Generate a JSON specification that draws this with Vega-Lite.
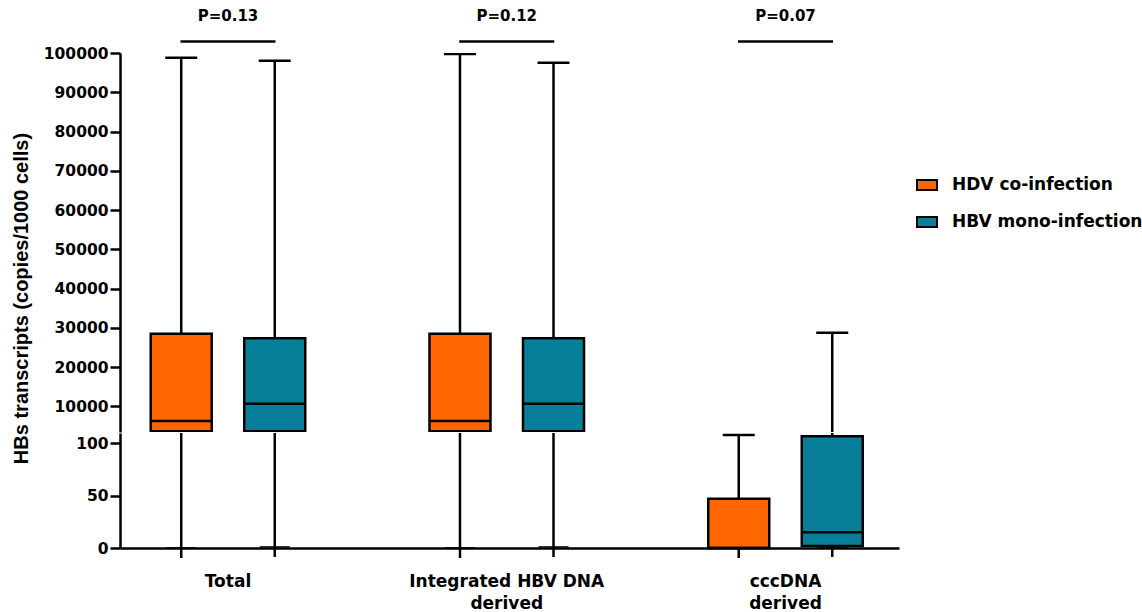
{
  "$schema": "https://vega.github.io/schema/vega-lite/v6.json",
  "padding": {"top": 8, "left": 11, "right": 2, "bottom": 2},
  "background": "white",
  "bounds": "flush",
  "datasets": {
    "boxes": [
      {"group": "Total", "infection": "HDV co-infection", "min": 0, "q1": 3700, "median": 6300, "q3": 28500, "max": 98800},
      {"group": "Total", "infection": "HBV mono-infection", "min": 1, "q1": 3700, "median": 10700, "q3": 27400, "max": 98000},
      {"group": "Integrated HBV DNA derived", "infection": "HDV co-infection", "min": 0, "q1": 3700, "median": 6300, "q3": 28500, "max": 99750},
      {"group": "Integrated HBV DNA derived", "infection": "HBV mono-infection", "min": 1, "q1": 3700, "median": 10700, "q3": 27400, "max": 97500},
      {"group": "cccDNA derived", "infection": "HDV co-infection", "min": 0, "q1": 0, "median": 0, "q3": 47, "max": 108},
      {"group": "cccDNA derived", "infection": "HBV mono-infection", "min": 1, "q1": 2, "median": 15, "q3": 107, "max": 28800}
    ],
    "pvals": [
      {"group": "Total", "p": "P=0.13"},
      {"group": "Integrated HBV DNA derived", "p": "P=0.12"},
      {"group": "cccDNA derived", "p": "P=0.07"}
    ]
  },
  "config": {
    "view": {"stroke": null},
    "font": "DejaVu Sans",
    "tick": {"opacity": 1},
    "axis": {
      "domainColor": "black", "domainWidth": 2.5, "tickColor": "black", "tickWidth": 2.5, "tickSize": 10,
      "labelFont": "DejaVu Sans", "labelFontWeight": "bold", "labelFontSize": 15.5, "labelColor": "black",
      "titleFont": "Liberation Sans", "titleFontWeight": "bold", "titleFontSize": 20, "titleColor": "black",
      "grid": false, "labelPadding": 2, "labelLimit": 0
    }
  },
  "vconcat": [
    {
      "width": 779,
      "height": 379,
      "layer": [
        {
          "data": {"name": "boxes"},
          "mark": {"type": "rule", "strokeWidth": 2.5, "color": "black", "clip": true},
          "encoding": {
            "x": {"field": "group", "type": "nominal", "axis": null,
                  "scale": {"domain": ["Total", "Integrated HBV DNA derived", "cccDNA derived"], "paddingInner": 0.329, "paddingOuter": 0.0618, "align": 0.42}},
            "xOffset": {"field": "infection", "type": "nominal", "scale": {"domain": ["HDV co-infection", "HBV mono-infection"], "paddingInner": 0, "paddingOuter": 0}},
            "y": {"field": "min", "type": "quantitative",
                  "scale": {"domain": [3500, 100000], "nice": false, "zero": false},
                  "axis": {"values": [10000, 20000, 30000, 40000, 50000, 60000, 70000, 80000, 90000, 100000], "format": "d",
                           "title": "HBs transcripts (copies/1000 cells)", "titleY": 245, "titlePadding": 12}},
            "y2": {"field": "max"}
          }
        },
        {
          "data": {"name": "boxes"},
          "mark": {"type": "bar", "width": 61, "stroke": "black", "strokeWidth": 2.5, "clip": true},
          "encoding": {
            "x": {"field": "group", "type": "nominal"},
            "xOffset": {"field": "infection", "type": "nominal"},
            "y": {"field": "q1", "type": "quantitative"},
            "y2": {"field": "q3"},
            "color": {"field": "infection", "type": "nominal",
                      "scale": {"domain": ["HDV co-infection", "HBV mono-infection"], "range": ["#FF6600", "#087F98"]},
                      "legend": {"title": null, "orient": "none", "legendX": 796, "legendY": 121,
                                 "symbolType": "M-1,-0.5H1V0.5H-1Z", "symbolSize": 400, "symbolStrokeColor": "black", "symbolStrokeWidth": 2,
                                 "labelFont": "DejaVu Sans", "labelFontWeight": "bold", "labelFontSize": 17, "labelColor": "black", "labelLimit": 0,
                                 "labelOffset": 14, "rowPadding": 17, "symbolOpacity": 1}}
          }
        },
        {
          "data": {"name": "boxes"},
          "mark": {"type": "tick", "size": 61, "thickness": 2.5, "color": "black", "opacity": 1, "clip": true},
          "encoding": {
            "x": {"field": "group", "type": "nominal"},
            "xOffset": {"field": "infection", "type": "nominal"},
            "y": {"field": "median", "type": "quantitative"}
          }
        },
        {
          "data": {"name": "boxes"},
          "mark": {"type": "tick", "size": 32, "thickness": 2.5, "color": "black", "opacity": 1, "clip": true},
          "encoding": {
            "x": {"field": "group", "type": "nominal"},
            "xOffset": {"field": "infection", "type": "nominal"},
            "y": {"field": "max", "type": "quantitative"}
          }
        },
        {
          "data": {"name": "pvals"},
          "mark": {"type": "tick", "size": 95, "thickness": 2.5, "color": "black", "opacity": 1, "clip": false},
          "encoding": {
            "x": {"field": "group", "type": "nominal"},
            "y": {"datum": 102900, "type": "quantitative"}
          }
        },
        {
          "data": {"name": "pvals"},
          "mark": {"type": "text", "dy": -26, "font": "DejaVu Sans", "fontWeight": "bold", "fontSize": 15, "color": "black", "baseline": "middle", "clip": false},
          "encoding": {
            "x": {"field": "group", "type": "nominal"},
            "y": {"datum": 102900, "type": "quantitative"},
            "text": {"field": "p"}
          }
        }
      ]
    },
    {
      "width": 779,
      "height": 115,
      "layer": [
        {
          "data": {"name": "boxes"},
          "mark": {"type": "rule", "strokeWidth": 2.5, "color": "black"},
          "encoding": {
            "x": {"field": "group", "type": "nominal",
                  "scale": {"domain": ["Total", "Integrated HBV DNA derived", "cccDNA derived"], "paddingInner": 0.329, "paddingOuter": 0.0618, "align": 0.42},
                  "axis": {"title": null, "ticks": false, "tickSize": 0, "labelPadding": 25, "labelAngle": 0, "labelFontSize": 17, "labelLineHeight": 22, "labelBaseline": "top", "labelLimit": 0,
                           "labelExpr": "datum.label == 'Total' ? 'Total' : datum.label == 'cccDNA derived' ? ['cccDNA', 'derived'] : ['Integrated HBV DNA', 'derived']"}},
            "xOffset": {"field": "infection", "type": "nominal", "scale": {"domain": ["HDV co-infection", "HBV mono-infection"], "paddingInner": 0, "paddingOuter": 0}},
            "y": {"field": "min", "type": "quantitative",
                  "scale": {"domain": [0, 110], "nice": false, "clamp": true},
                  "axis": {"values": [0, 50, 100], "title": null}},
            "y2": {"field": "max"}
          }
        },
        {
          "data": {"name": "boxes"},
          "mark": {"type": "tick", "orient": "vertical", "size": 10, "thickness": 2.5, "yOffset": 5, "color": "black", "opacity": 1},
          "encoding": {
            "x": {"field": "group", "type": "nominal"},
            "xOffset": {"field": "infection", "type": "nominal"},
            "y": {"field": "min", "type": "quantitative"}
          }
        },
        {
          "data": {"name": "boxes"},
          "transform": [{"filter": "datum.q1 <= 110"}],
          "mark": {"type": "bar", "width": 61, "stroke": "black", "strokeWidth": 2.5},
          "encoding": {
            "x": {"field": "group", "type": "nominal"},
            "xOffset": {"field": "infection", "type": "nominal"},
            "y": {"field": "q1", "type": "quantitative"},
            "y2": {"field": "q3"},
            "color": {"field": "infection", "type": "nominal"}
          }
        },
        {
          "data": {"name": "boxes"},
          "transform": [{"filter": "datum.median <= 110"}],
          "mark": {"type": "tick", "size": 61, "thickness": 2.5, "color": "black", "opacity": 1},
          "encoding": {
            "x": {"field": "group", "type": "nominal"},
            "xOffset": {"field": "infection", "type": "nominal"},
            "y": {"field": "median", "type": "quantitative"}
          }
        },
        {
          "data": {"name": "boxes"},
          "transform": [{"filter": "datum.max <= 110"}],
          "mark": {"type": "tick", "size": 32, "thickness": 2.5, "color": "black", "opacity": 1},
          "encoding": {
            "x": {"field": "group", "type": "nominal"},
            "xOffset": {"field": "infection", "type": "nominal"},
            "y": {"field": "max", "type": "quantitative"}
          }
        },
        {
          "data": {"name": "boxes"},
          "mark": {"type": "tick", "size": 30, "thickness": 1.5, "color": "black", "opacity": 1},
          "encoding": {
            "x": {"field": "group", "type": "nominal"},
            "xOffset": {"field": "infection", "type": "nominal"},
            "y": {"field": "min", "type": "quantitative"}
          }
        }
      ]
    }
  ],
  "spacing": 1
}
